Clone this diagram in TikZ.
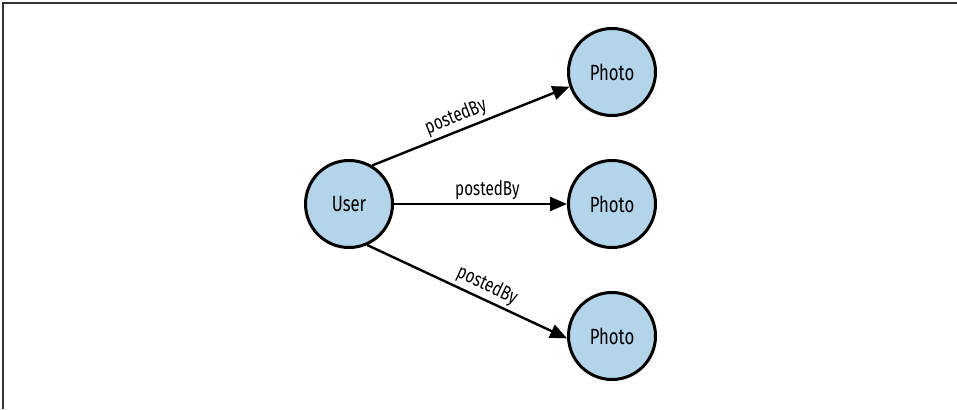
\documentclass[tikz,border=0pt]{standalone}
\usepackage{fontspec}
\setmainfont{Fira Sans}[FakeStretch=0.76]
\usetikzlibrary{arrows.meta}
\definecolor{nodeblue}{RGB}{180,212,234}
\begin{document}
\begin{tikzpicture}[x=1pt,y=-1pt,
  entity/.style={circle,draw,line width=3pt,fill=nodeblue,minimum size=87pt,inner sep=0pt,font=\fontsize{22}{26}\selectfont},
  relation/.style={line width=2.4pt,-{Triangle[length=17pt,width=14pt]}},
  edgelabel/.style={above,sloped,inner sep=3pt,font=\fontsize{20}{24}\selectfont}]
\useasboundingbox (0,0) rectangle (957,409);
\draw[line width=2pt,black!80] (3,409) -- (3,3) -- (957,3);
\node[entity] (user) at (349,204) {User};
\node[entity] (photoA) at (612,72) {Photo};
\node[entity] (photoB) at (612,204) {Photo};
\node[entity] (photoC) at (612,336) {Photo};
\draw[relation] (user.59) -- node[edgelabel,pos=.45] {postedBy} (photoA.199);
\draw[relation] (user.east) -- node[edgelabel,pos=.54] {postedBy} (photoB.west);
\draw[relation] (user.-66) -- node[edgelabel,pos=.57] {postedBy} (photoC.183);
\end{tikzpicture}
\end{document}
